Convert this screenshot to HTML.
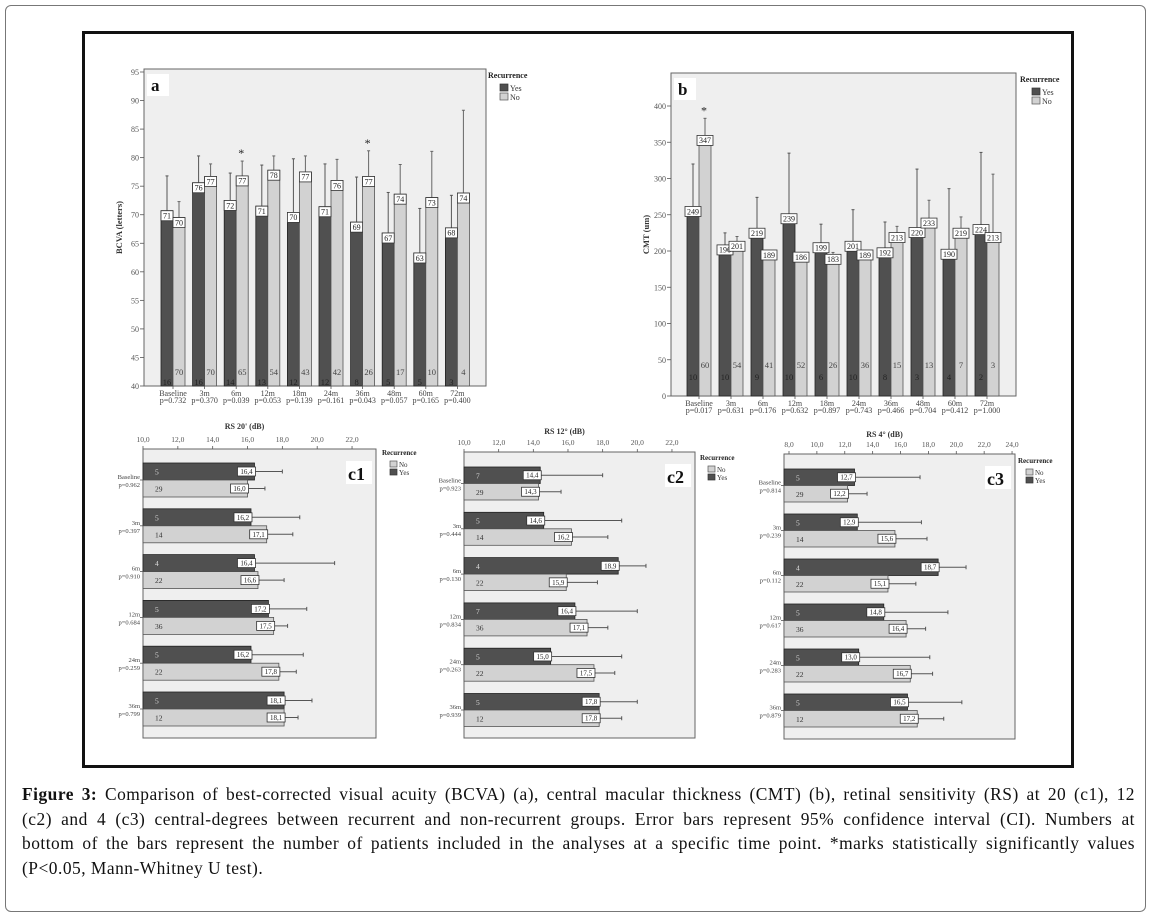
<!DOCTYPE html>
<html><head><meta charset="utf-8"><style>
html,body{margin:0;padding:0;background:#fff;}
body{width:1153px;height:919px;position:relative;overflow:hidden;font-family:"Liberation Serif",serif;}
#outer{position:absolute;left:5px;top:5px;width:1141px;height:907px;border:1px solid #777;border-radius:6px;box-sizing:border-box;}
#frame{position:absolute;left:82px;top:31px;width:992px;height:737px;border:3px solid #111;box-sizing:border-box;}
#caption{position:absolute;left:22px;top:782px;width:1113px;font-size:17.4px;letter-spacing:0.5px;line-height:24.5px;color:#111;}
#caption div{text-align:justify;text-align-last:justify;white-space:nowrap;}
#caption div.last{text-align-last:left;}
svg{position:absolute;left:0;top:0;}
</style></head><body>
<div id="outer"></div>
<div id="frame"></div>
<svg id="chart" width="1153" height="919" font-family="Liberation Serif, serif"></svg>
<div id="caption">
<div><b>Figure 3:</b> Comparison of best-corrected visual acuity (BCVA) (a), central macular thickness (CMT) (b), retinal sensitivity (RS) at 20 (c1), 12</div>
<div>(c2) and 4 (c3) central-degrees between recurrent and non-recurrent groups. Error bars represent 95% confidence interval (CI). Numbers at</div>
<div>bottom of the bars represent the number of patients included in the analyses at a specific time point. *marks statistically significantly values</div>
<div class="last">(P&lt;0.05, Mann-Whitney U test).</div>
</div>
<script>
// ---- Panel a data (BCVA) ----
const aCats = ["Baseline","3m","6m","12m","18m","24m","36m","48m","60m","72m"];
const aP = ["p=0.732","p=0.370","p=0.039","p=0.053","p=0.139","p=0.161","p=0.043","p=0.057","p=0.165","p=0.400"];
const aYes = [70.7,75.6,72.5,71.5,70.4,71.4,68.7,66.8,63.3,67.7];
const aNo = [69.5,76.7,76.8,77.8,77.5,76.0,76.7,73.6,73.0,73.8];
const aYesLbl = ["71","76","72","71","70","71","69","67","63","68"];
const aNoLbl = ["70","77","77","78","77","76","77","74","73","74"];
const aYesErr = [76.8,80.3,77.3,78.7,79.8,78.9,76.6,73.9,71.1,73.4];
const aNoErr = [72.3,78.9,79.4,80.3,80.3,79.7,81.2,78.8,81.1,88.3];
const aYesN = ["16","16","14","13","12","12","8","5","5","3"];
const aNoN = ["70","70","65","54","43","42","26","17","10","4"];
const aStar = [false,false,true,false,false,false,true,false,false,false];
const aTicks = [40,45,50,55,60,65,70,75,80,85,90,95];
// ---- Panel b data (CMT) ----
const bCats = ["Baseline","3m","6m","12m","18m","24m","36m","48m","60m","72m"];
const bP = ["p=0.017","p=0.631","p=0.176","p=0.632","p=0.897","p=0.743","p=0.466","p=0.704","p=0.412","p=1.000"];
const bYes = [249,196,219,239,199,201,192,220,190,224];
const bNo = [347,201,189,186,183,189,213,233,219,213];
const bYesErr = [320,225,274,335,237,257,240,313,286,336];
const bNoErr = [383,220,195,190,198,195,234,270,247,306];
const bYesN = ["10","10","9","10","6","10","8","3","4","2"];
const bNoN = ["60","54","41","52","26","36","15","13","7","3"];
const bStar = [true,false,false,false,false,false,false,false,false,false];
const bTicks = [0,50,100,150,200,250,300,350,400];
// ---- Panel c data (RS) ----
const cCats = ["Baseline","3m","6m","12m","24m","36m"];
const c1P = ["p=0.962","p=0.397","p=0.910","p=0.684","p=0.259","p=0.799"];
const c1Yes = [16.4,16.2,16.4,17.2,16.2,18.1];
const c1No = [16.0,17.1,16.6,17.5,17.8,18.1];
const c1YesErr = [18.0,19.0,21.0,19.4,19.2,19.7];
const c1NoErr = [17.0,18.6,18.1,18.3,18.8,18.9];
const c1YesN = ["5","5","4","5","5","5"];
const c1NoN = ["29","14","22","36","22","12"];
const c2P = ["p=0.923","p=0.444","p=0.130","p=0.834","p=0.263","p=0.939"];
const c2Yes = [14.4,14.6,18.9,16.4,15.0,17.8];
const c2No = [14.3,16.2,15.9,17.1,17.5,17.8];
const c2YesErr = [18.0,19.1,20.5,20.0,19.1,20.0];
const c2NoErr = [15.6,18.3,17.7,18.3,18.7,19.1];
const c2YesN = ["7","5","4","7","5","5"];
const c2NoN = ["29","14","22","36","22","12"];
const c3P = ["p=0.814","p=0.239","p=0.112","p=0.617","p=0.283","p=0.879"];
const c3Yes = [12.7,12.9,18.7,14.8,13.0,16.5];
const c3No = [12.2,15.6,15.1,16.4,16.7,17.2];
const c3YesErr = [17.4,17.5,20.7,19.4,18.1,20.4];
const c3NoErr = [13.6,17.9,17.1,17.8,18.3,19.1];
const c3YesN = ["5","5","4","5","5","5"];
const c3NoN = ["29","14","22","36","22","12"];
const c12Ticks = [10,12,14,16,18,20,22];
const c3Ticks = [8,10,12,14,16,18,20,22,24];

const NS="http://www.w3.org/2000/svg";
const svg=document.getElementById('chart');
const DARK="#505050", LIGHT="#d2d2d2", BG="#efefef";
function mk(tag,attrs,parent,txt){const e=document.createElementNS(NS,tag);for(const k in attrs)e.setAttribute(k,attrs[k]);if(txt!==undefined)e.textContent=txt;(parent||svg).appendChild(e);return e;}
function fmt(v){return v.toFixed(1).replace('.',',');}

function vLegend(g,x,y){
  const t=mk('text',{x:x,y:y,'font-size':8,'font-weight':'bold',fill:'#222'},g,'Recurrence');
  
  
  const s1=mk('rect',{x:x+12,y:y+6,width:8,height:7,fill:DARK,stroke:'#333','stroke-width':0.7},g);
  
  
  const l1=mk('text',{x:x+22,y:y+13,'font-size':8,fill:'#333'},g,'Yes');
  
  
  const s2=mk('rect',{x:x+12,y:y+15,width:8,height:7,fill:LIGHT,stroke:'#555','stroke-width':0.7},g);
  
  
  const l2=mk('text',{x:x+22,y:y+22,'font-size':8,fill:'#333'},g,'No');
  
  
}
function hLegend(g,x,y){
  const t=mk('text',{x:x,y:y,'font-size':7,'font-weight':'bold',fill:'#222'},g,'Recurrence');
  
  
  const s1=mk('rect',{x:x+8,y:y+6,width:7,height:6,fill:LIGHT,stroke:'#555','stroke-width':0.7},g);
  
  
  const l1=mk('text',{x:x+17,y:y+12,'font-size':7,fill:'#333'},g,'No');
  
  
  const s2=mk('rect',{x:x+8,y:y+14,width:7,height:6,fill:DARK,stroke:'#333','stroke-width':0.7},g);
  
  
  const l2=mk('text',{x:x+17,y:y+20,'font-size':7,fill:'#333'},g,'Yes');
  
  
}
function valBox(g,cx,cy,txt,fs){
  const w=txt.length*fs*0.5+4,h=fs+2;
  mk('rect',{x:cx-w/2,y:cy-h/2,width:w,height:h,fill:'#fff',stroke:'#333','stroke-width':0.8},g);
  mk('text',{x:cx,y:cy+fs*0.35,'font-size':fs,'text-anchor':'middle',fill:'#222'},g,txt);
}

function vPanel(o){
  const g=mk('g',{});
  
  
  const y=v=>o.bottom-(v-o.vmin)*(o.bottom-o.y95)/(o.vmaxTick-o.vmin);
  const xc=i=>o.c0+o.step*i;
  mk('rect',{x:o.left,y:o.top,width:o.right-o.left,height:o.bottom-o.top,fill:BG,stroke:'#666','stroke-width':1},g);
  mk('rect',{x:o.left+3,y:o.top+5,width:22,height:22,fill:'#fff'},g);
  const lt=mk('text',{x:o.left+7,y:o.top+22,'font-size':17,'font-weight':'bold',fill:'#111'},g,o.letter);
  
  
  o.ticks.forEach(t=>{
    mk('line',{x1:o.left-4,x2:o.left,y1:y(t),y2:y(t),stroke:'#555','stroke-width':0.8},g);
    const tl=mk('text',{x:o.left-5,y:y(t)+3,'font-size':8,'text-anchor':'end',fill:'#555'},g,String(t));
    
    
  });
  const yt=mk('text',{x:0,y:0,'font-size':8.5,'font-weight':'bold','text-anchor':'middle',fill:'#333',transform:`translate(${o.left-22},${(o.top+o.bottom)/2}) rotate(-90)`},g,o.ytitle);
  
  
  const bw=o.bw;
  o.cats.forEach((c,i)=>{
    const cx=xc(i);
    const yb=mk('rect',{x:cx-bw,y:y(o.yes[i]),width:bw,height:o.bottom-y(o.yes[i]),fill:DARK,stroke:'#222','stroke-width':0.8},g);
    
    
    const nb=mk('rect',{x:cx,y:y(o.no[i]),width:bw,height:o.bottom-y(o.no[i]),fill:LIGHT,stroke:'#555','stroke-width':0.8},g);
    
    
    const ex1=cx-bw/2, ex2=cx+bw/2;
    mk('line',{x1:ex1,x2:ex1,y1:y(o.yes[i]),y2:y(o.yesErr[i]),stroke:'#555','stroke-width':1},g);
    mk('line',{x1:ex1-1.5,x2:ex1+1.5,y1:y(o.yesErr[i]),y2:y(o.yesErr[i]),stroke:'#555','stroke-width':1},g);
    mk('line',{x1:ex2,x2:ex2,y1:y(o.no[i]),y2:y(o.noErr[i]),stroke:'#666','stroke-width':1},g);
    mk('line',{x1:ex2-1.5,x2:ex2+1.5,y1:y(o.noErr[i]),y2:y(o.noErr[i]),stroke:'#666','stroke-width':1},g);
    valBox(g,ex1,y(o.yes[i])+o.boxOff,o.yesLbl[i],8);
    valBox(g,ex2,y(o.no[i])+o.boxOff,o.noLbl[i],8);
    mk('text',{x:ex1,y:o.bottom-o.yesNOff,'font-size':8.5,'text-anchor':'middle',fill:'#222'},g,o.yesN[i]);
    mk('text',{x:ex2,y:o.bottom-o.noNOff,'font-size':8.5,'text-anchor':'middle',fill:'#444'},g,o.noN[i]);
    if(o.star[i]){const st=mk('text',{x:ex2-1,y:y(o.noErr[i])-4,'font-size':12,'text-anchor':'middle',fill:'#222'},g,'*');}
    mk('line',{x1:cx,x2:cx,y1:o.bottom,y2:o.bottom+3,stroke:'#555','stroke-width':0.8},g);
    const xl=mk('text',{x:cx,y:o.bottom+10,'font-size':8,'text-anchor':'middle',fill:'#444'},g,c);
    
    
    mk('text',{x:cx,y:o.bottom+17,'font-size':8,'text-anchor':'middle',fill:'#444'},g,o.p[i]);
  });
  vLegend(g,o.legX,o.legY);
}

function hPanel(o){
  const g=mk('g',{});
  
  
  const x=v=>o.x0+(v-o.v0)*o.k;
  mk('rect',{x:o.left,y:o.top,width:o.right-o.left,height:o.bottom-o.top,fill:BG,stroke:'#666','stroke-width':1},g);
  const tt=mk('text',{x:(o.left+o.right)/2-15,y:o.titleY,'font-size':8,'font-weight':'bold','text-anchor':'middle',fill:'#333'},g,o.title);
  
  
  o.ticks.forEach(t=>{
    mk('line',{x1:x(t),x2:x(t),y1:o.top-3,y2:o.top,stroke:'#555','stroke-width':0.8},g);
    const tl=mk('text',{x:x(t),y:o.top-7,'font-size':7.5,'text-anchor':'middle',fill:'#555'},g,fmt(t));
    
    
  });
  mk('rect',{x:o.right-30,y:o.top+12,width:26,height:23,fill:'#fff'},g);
  const lt=mk('text',{x:o.right-28,y:o.top+31,'font-size':18,'font-weight':'bold',fill:'#111'},g,o.letter);
  
  
  const bh=o.bh;
  o.cats.forEach((c,i)=>{
    const ty=o.y0+o.gap*i, mid=ty+bh;
    const yb=mk('rect',{x:o.left,y:ty,width:x(o.yes[i])-o.left,height:bh,fill:DARK,stroke:'#222','stroke-width':0.8},g);
    
    
    const nb=mk('rect',{x:o.left,y:mid,width:x(o.no[i])-o.left,height:bh,fill:LIGHT,stroke:'#555','stroke-width':0.8},g);
    
    
    const yc=ty+bh/2, nc=mid+bh/2;
    mk('line',{x1:x(o.yes[i]),x2:x(o.yesErr[i]),y1:yc,y2:yc,stroke:'#555','stroke-width':1},g);
    mk('line',{x1:x(o.yesErr[i]),x2:x(o.yesErr[i]),y1:yc-2,y2:yc+2,stroke:'#555','stroke-width':1},g);
    mk('line',{x1:x(o.no[i]),x2:x(o.noErr[i]),y1:nc,y2:nc,stroke:'#555','stroke-width':1},g);
    mk('line',{x1:x(o.noErr[i]),x2:x(o.noErr[i]),y1:nc-2,y2:nc+2,stroke:'#555','stroke-width':1},g);
    valBox(g,x(o.yes[i])-8,yc,fmt(o.yes[i]),7);
    valBox(g,x(o.no[i])-8,nc,fmt(o.no[i]),7);
    mk('text',{x:o.left+12,y:yc+3,'font-size':7.5,fill:'#ddd'},g,o.yesN[i]);
    mk('text',{x:o.left+12,y:nc+3,'font-size':7.5,fill:'#333'},g,o.noN[i]);
    mk('line',{x1:o.left-3,x2:o.left,y1:mid,y2:mid,stroke:'#555','stroke-width':0.8},g);
    const gl=mk('text',{x:o.left-3,y:mid-1,'font-size':6.5,'text-anchor':'end',fill:'#444'},g,c);
    
    
    mk('text',{x:o.left-3,y:mid+7,'font-size':6.5,'text-anchor':'end',fill:'#444'},g,o.p[i]);
  });
  hLegend(g,o.legX,o.legY);
}

vPanel({name:'chart-a-bcva',letter:'a',ytitle:'BCVA (letters)',left:144,top:69,right:486,bottom:386,y95:72,vmin:40,vmaxTick:95,
  c0:173,step:31.6,bw:12,boxOff:5,yesNOff:1,noNOff:11,cats:aCats,p:aP,yes:aYes,no:aNo,yesLbl:aYesLbl,noLbl:aNoLbl,yesErr:aYesErr,noErr:aNoErr,
  yesN:aYesN,noN:aNoN,star:aStar,ticks:aTicks,legX:488,legY:78});
vPanel({name:'chart-b-cmt',letter:'b',ytitle:'CMT (um)',left:671,top:73,right:1016,bottom:396,y95:106,vmin:0,vmaxTick:400,
  c0:699,step:32,bw:12,boxOff:-4,yesNOff:16,noNOff:28,cats:bCats,p:bP,yes:bYes,no:bNo,yesLbl:bYes.map(String),noLbl:bNo.map(String),yesErr:bYesErr,noErr:bNoErr,
  yesN:bYesN,noN:bNoN,star:bStar,ticks:bTicks,legX:1020,legY:82});
hPanel({name:'chart-c1-rs20',letter:'c1',title:"RS 20' (dB)",titleY:429,left:143,top:449,right:376,bottom:738,x0:143,v0:10,k:17.42,
  y0:463,gap:45.8,bh:17,cats:cCats,p:c1P,yes:c1Yes,no:c1No,yesErr:c1YesErr,noErr:c1NoErr,yesN:c1YesN,noN:c1NoN,ticks:c12Ticks,legX:382,legY:455});
hPanel({name:'chart-c2-rs12',letter:'c2',title:"RS 12° (dB)",titleY:434,left:464,top:452,right:695,bottom:738,x0:464,v0:10,k:17.33,
  y0:467,gap:45.3,bh:16.5,cats:cCats,p:c2P,yes:c2Yes,no:c2No,yesErr:c2YesErr,noErr:c2NoErr,yesN:c2YesN,noN:c2NoN,ticks:c12Ticks,legX:700,legY:460});
hPanel({name:'chart-c3-rs4',letter:'c3',title:"RS 4° (dB)",titleY:437,left:784,top:454,right:1015,bottom:739,x0:789,v0:8,k:13.94,
  y0:469,gap:45,bh:16.5,cats:cCats,p:c3P,yes:c3Yes,no:c3No,yesErr:c3YesErr,noErr:c3NoErr,yesN:c3YesN,noN:c3NoN,ticks:c3Ticks,legX:1018,legY:463});
</script>
</body></html>
